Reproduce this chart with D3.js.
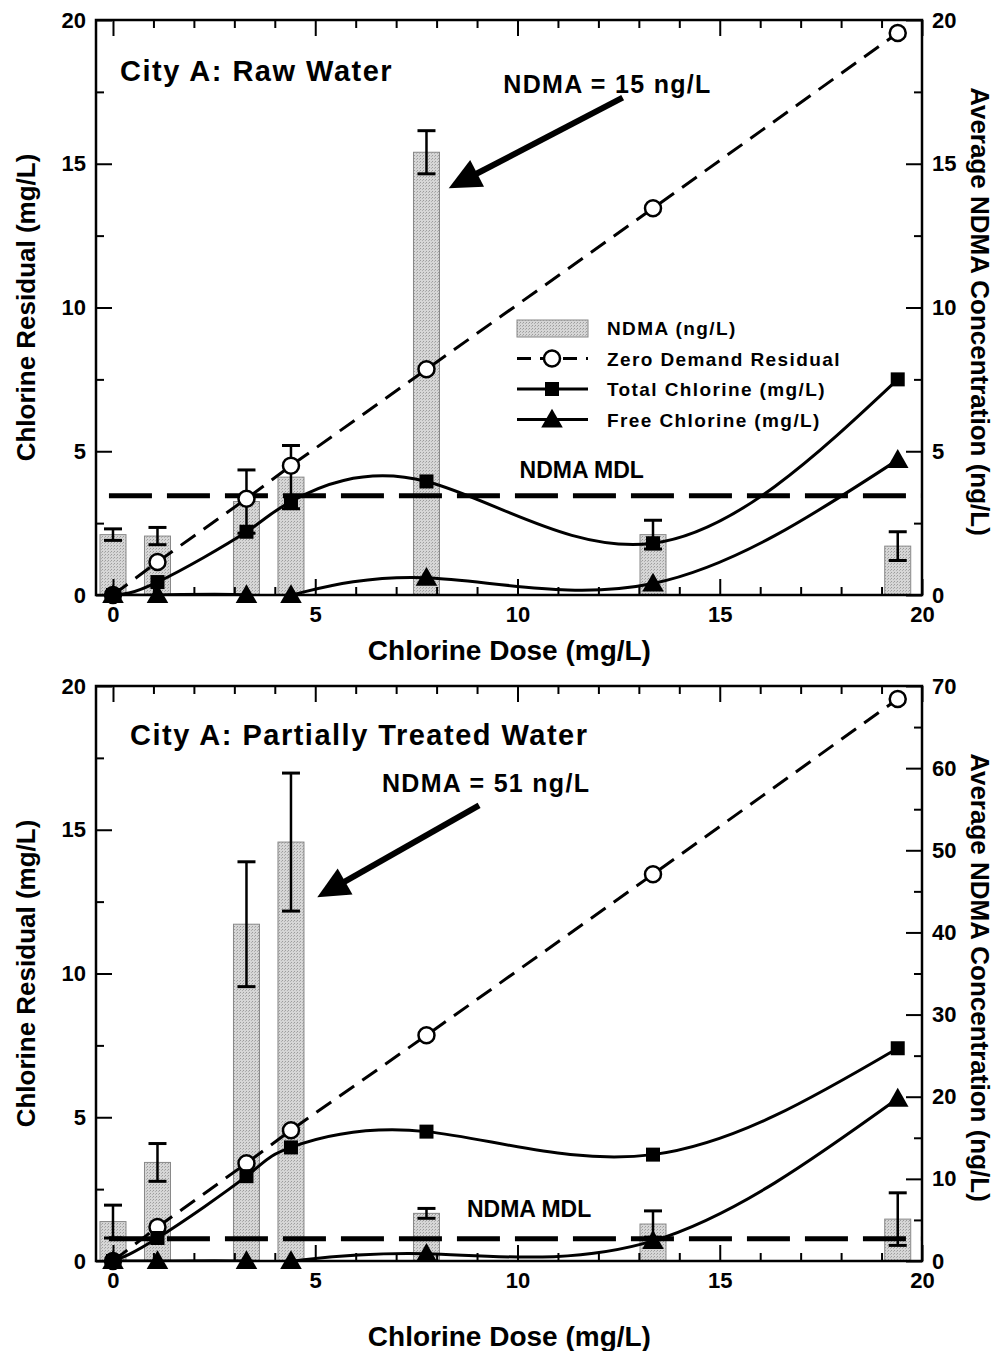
<!DOCTYPE html>
<html>
<head>
<meta charset="utf-8">
<script src="https://cdn.jsdelivr.net/npm/d3@7"></script>
<style>
  body { margin: 0; background: #fff; }
  text { font-family: "Liberation Sans", Arial, Helvetica, sans-serif; font-weight: bold; fill: #000; }
</style>
</head>
<body>
<div id="chart"></div>
<script>
// chlorine doses (mg/L), shared by both panels
var doses = [0, 1.1, 3.3, 4.4, 7.75, 13.35, 19.4];

// City A raw water
var rawZeroDemand = [0, 1.15, 3.35, 4.5, 7.85, 13.45, 19.55];
var rawTotal = [0, 0.45, 2.2, 3.25, 3.95, 1.8, 7.5];
var rawFree = [0, 0, 0, 0, 0.6, 0.4, 4.7];
var rawNdma = [2.1, 2.05, 3.25, 4.1, 15.4, 2.1, 1.7];
var rawNdmaErr = [0.2, 0.3, 1.1, 1.1, 0.75, 0.5, 0.5];
var rawMdl = 3.45;

// City A partially treated water
var ptZeroDemand = [0, 1.18, 3.4, 4.55, 7.85, 13.45, 19.55];
var ptTotal = [0, 0.8, 2.95, 3.95, 4.5, 3.7, 7.4];
var ptFree = [0, 0, 0, 0, 0.25, 0.7, 5.65];
var ptNdma = [4.8, 12.0, 41.0, 51.0, 5.8, 4.5, 5.1];
var ptNdmaErr = [2.0, 2.3, 7.6, 8.4, 0.6, 1.6, 3.2];
var ptMdl = 2.7;

// axis ticks
var xTicks = d3.range(0, 21, 1);
var leftTicks = d3.range(0, 20.1, 2.5);
var rawRightTicks = d3.range(0, 20.1, 2.5);
var ptRightTicks = d3.range(0, 70.1, 5);

var legendLabels = ["NDMA (ng/L)", "Zero Demand Residual", "Total Chlorine (mg/L)", "Free Chlorine (mg/L)"];

var W = 997, H = 1351;
var pw = 826, ph = 575;

var svg = d3.select("#chart").append("svg")
    .attr("width", W)
    .attr("height", H);

// stipple pattern for the bars
var defs = svg.append("defs");
var pat = defs.append("pattern")
    .attr("id", "stipple")
    .attr("width", 3).attr("height", 3)
    .attr("patternUnits", "userSpaceOnUse");
pat.append("rect").attr("width", 3).attr("height", 3).attr("fill", "#d6d6d6");
pat.append("rect").attr("x", 0).attr("y", 0).attr("width", 1).attr("height", 1).attr("fill", "#9c9c9c");
pat.append("rect").attr("x", 2).attr("y", 1).attr("width", 1).attr("height", 1).attr("fill", "#b0b0b0");

var xScale = d3.scaleLinear().domain([-0.42, 20]).range([0, pw]);
var yScale = d3.scaleLinear().domain([0, 20]).range([ph, 0]);

function triangle(s) {
  return "M0," + (-s * 0.6) + "L" + (s * 0.6) + "," + (s * 0.45) + "L" + (-s * 0.6) + "," + (s * 0.45) + "Z";
}

function arrow(g, x1, y1, x2, y2) {
  var dx = x2 - x1, dy = y2 - y1;
  var len = Math.sqrt(dx * dx + dy * dy);
  var ux = dx / len, uy = dy / len;
  var L = 32, hw = 15;
  var bx = x2 - ux * L, by = y2 - uy * L;
  g.append("line")
      .attr("x1", x1).attr("y1", y1)
      .attr("x2", bx + ux * 4).attr("y2", by + uy * 4)
      .attr("stroke", "#000").attr("stroke-width", 6);
  g.append("path")
      .attr("d", "M" + x2 + "," + y2 +
                 "L" + (bx - uy * hw) + "," + (by + ux * hw) +
                 "L" + (bx + uy * hw) + "," + (by - ux * hw) + "Z")
      .attr("fill", "#000");
}

function drawPanel(o) {
  var g = svg.append("g").attr("transform", "translate(96," + o.top + ")");
  var yRight = d3.scaleLinear().domain([0, o.rightMax]).range([ph, 0]);

  g.append("clipPath").attr("id", "clip" + o.id)
    .append("rect").attr("width", pw).attr("height", ph);

  // NDMA bars (right axis)
  var barW = 26;
  g.selectAll(".bar").data(doses).enter().append("rect")
      .attr("x", function(d) { return xScale(d) - barW / 2; })
      .attr("y", function(d, i) { return yRight(o.ndma[i]); })
      .attr("width", barW)
      .attr("height", function(d, i) { return ph - yRight(o.ndma[i]); })
      .attr("fill", "url(#stipple)")
      .attr("stroke", "#888")
      .attr("stroke-width", 1);

  // error bars
  var eb = g.selectAll(".err").data(doses).enter().append("g");
  eb.append("line")
      .attr("x1", function(d) { return xScale(d); })
      .attr("x2", function(d) { return xScale(d); })
      .attr("y1", function(d, i) { return yRight(o.ndma[i] + o.err[i]); })
      .attr("y2", function(d, i) { return yRight(Math.max(0, o.ndma[i] - o.err[i])); })
      .attr("stroke", "#000").attr("stroke-width", 2.5);
  [1, -1].forEach(function(sign) {
    eb.append("line")
        .attr("x1", function(d) { return xScale(d) - 9; })
        .attr("x2", function(d) { return xScale(d) + 9; })
        .attr("y1", function(d, i) { return yRight(o.ndma[i] + sign * o.err[i]); })
        .attr("y2", function(d, i) { return yRight(o.ndma[i] + sign * o.err[i]); })
        .attr("stroke", "#000").attr("stroke-width", 3);
  });

  // NDMA MDL line
  g.append("line")
      .attr("x1", xScale(-0.1)).attr("x2", pw)
      .attr("y1", yRight(o.mdl)).attr("y2", yRight(o.mdl))
      .attr("stroke", "#000").attr("stroke-width", 5)
      .attr("stroke-dasharray", "43,15");
  g.append("text")
      .attr("x", xScale(o.mdlLabelX)).attr("y", yRight(o.mdl) - o.mdlLabelDy)
      .attr("font-size", 23)
      .text("NDMA MDL");

  // lines
  var lines = g.append("g").attr("clip-path", "url(#clip" + o.id + ")");
  var smooth = d3.line()
      .x(function(d) { return xScale(d[0]); })
      .y(function(d) { return yScale(d[1]); })
      .curve(d3.curveNatural);
  var straight = d3.line()
      .x(function(d) { return xScale(d[0]); })
      .y(function(d) { return yScale(d[1]); });

  lines.append("path")
      .attr("d", straight(d3.zip(doses, o.zero)))
      .attr("fill", "none").attr("stroke", "#000").attr("stroke-width", 3)
      .attr("stroke-dasharray", "18,10");
  lines.append("path")
      .attr("d", smooth(d3.zip(doses, o.total)))
      .attr("fill", "none").attr("stroke", "#000").attr("stroke-width", 3);
  lines.append("path")
      .attr("d", smooth(d3.zip(doses, o.free)))
      .attr("fill", "none").attr("stroke", "#000").attr("stroke-width", 3);

  // markers
  g.selectAll(".zd").data(doses).enter().append("circle")
      .attr("cx", function(d) { return xScale(d); })
      .attr("cy", function(d, i) { return yScale(o.zero[i]); })
      .attr("r", 8)
      .attr("fill", "#fff").attr("stroke", "#000").attr("stroke-width", 2.5);
  g.selectAll(".tc").data(doses).enter().append("rect")
      .attr("x", function(d) { return xScale(d) - 7; })
      .attr("y", function(d, i) { return yScale(o.total[i]) - 7; })
      .attr("width", 14).attr("height", 14)
      .attr("fill", "#000");
  g.selectAll(".fc").data(doses).enter().append("path")
      .attr("transform", function(d, i) { return "translate(" + xScale(d) + "," + yScale(o.free[i]) + ")"; })
      .attr("d", triangle(18))
      .attr("fill", "#000");
  // black dot at origin
  g.append("circle").attr("cx", xScale(0)).attr("cy", yScale(0)).attr("r", 8).attr("fill", "#000");

  // frame
  g.append("rect")
      .attr("width", pw).attr("height", ph)
      .attr("fill", "none").attr("stroke", "#000").attr("stroke-width", 2.5);

  // axes, ticks inward
  var xb = g.append("g").attr("transform", "translate(0," + ph + ")")
      .call(d3.axisBottom(xScale).tickValues(xTicks).tickSize(-8).tickPadding(11)
            .tickFormat(function(d) { return d % 5 === 0 ? d : ""; }));
  xb.selectAll(".tick line").attr("y2", function(d) { return d % 5 === 0 ? -16 : -8; });
  var xt = g.append("g")
      .call(d3.axisTop(xScale).tickValues(xTicks).tickSize(-8).tickFormat(""));
  xt.selectAll(".tick line").attr("y2", function(d) { return d % 5 === 0 ? 16 : 8; });

  var yl = g.append("g")
      .call(d3.axisLeft(yScale).tickValues(leftTicks).tickSize(-8).tickPadding(10)
            .tickFormat(function(d) { return d % 5 === 0 ? d : ""; }));
  yl.selectAll(".tick line").attr("x2", function(d) { return d % 5 === 0 ? 16 : 8; });

  var yr = g.append("g").attr("transform", "translate(" + pw + ",0)")
      .call(d3.axisRight(yRight).tickValues(o.rightTicks).tickSize(-8).tickPadding(10)
            .tickFormat(function(d) { return d % o.rightMajor === 0 ? d : ""; }));
  yr.selectAll(".tick line").attr("x2", function(d) { return d % o.rightMajor === 0 ? -16 : -8; });

  [xb, xt, yl, yr].forEach(function(a) {
    a.attr("font-size", 22);
    a.select(".domain").remove();
    a.selectAll(".tick line").attr("stroke", "#000").attr("stroke-width", 2);
  });

  // axis titles
  g.append("text")
      .attr("x", xScale(9.8)).attr("y", o.xTitleY)
      .attr("text-anchor", "middle").attr("font-size", 28)
      .text("Chlorine Dose (mg/L)");
  g.append("text")
      .attr("transform", "translate(-61," + (ph / 2) + ") rotate(-90)")
      .attr("text-anchor", "middle").attr("font-size", 26)
      .text("Chlorine Residual (mg/L)");
  g.append("text")
      .attr("transform", "translate(" + (pw + 49) + "," + (ph / 2 + 4) + ") rotate(90)")
      .attr("text-anchor", "middle").attr("font-size", 26)
      .text("Average NDMA Concentration (ng/L)");

  // panel title and annotation
  g.append("text")
      .attr("x", o.titleX).attr("y", o.titleY)
      .attr("font-size", 29).attr("letter-spacing", 1.5)
      .text(o.title);
  g.append("text")
      .attr("x", xScale(o.note[0])).attr("y", yScale(o.note[1]))
      .attr("font-size", 25).attr("letter-spacing", 1.3)
      .text(o.noteText);
  arrow(g, xScale(o.arrow[0]), yScale(o.arrow[1]), xScale(o.arrow[2]), yScale(o.arrow[3]));

  return g;
}

var top1 = drawPanel({
  id: "a", top: 20,
  zero: rawZeroDemand, total: rawTotal, free: rawFree,
  ndma: rawNdma, err: rawNdmaErr, mdl: rawMdl,
  rightMax: 20, rightTicks: rawRightTicks, rightMajor: 5,
  mdlLabelX: 10.05, mdlLabelDy: 18,
  title: "City A: Raw Water", titleX: 24, titleY: 61,
  note: [9.65, 17.45], noteText: "NDMA = 15 ng/L",
  arrow: [12.6, 17.3, 8.3, 14.15],
  xTitleY: 640
});

drawPanel({
  id: "b", top: 686,
  zero: ptZeroDemand, total: ptTotal, free: ptFree,
  ndma: ptNdma, err: ptNdmaErr, mdl: ptMdl,
  rightMax: 70, rightTicks: ptRightTicks, rightMajor: 10,
  mdlLabelX: 8.75, mdlLabelDy: 22,
  title: "City A: Partially Treated Water", titleX: 34, titleY: 59,
  note: [6.65, 16.3], noteText: "NDMA = 51 ng/L",
  arrow: [9.05, 15.85, 5.05, 12.65],
  xTitleY: 660
});

// legend (top panel)
var leg = top1.append("g").attr("transform", "translate(421,308)");
var rowH = 30.5;
leg.append("rect").attr("x", 0).attr("y", -8).attr("width", 71).attr("height", 17)
    .attr("fill", "url(#stipple)").attr("stroke", "#888").attr("stroke-width", 1);
leg.append("line").attr("x1", 0).attr("x2", 71).attr("y1", rowH).attr("y2", rowH)
    .attr("stroke", "#000").attr("stroke-width", 3).attr("stroke-dasharray", "14,9");
leg.append("circle").attr("cx", 35).attr("cy", rowH).attr("r", 8)
    .attr("fill", "#fff").attr("stroke", "#000").attr("stroke-width", 2.5);
leg.append("line").attr("x1", 0).attr("x2", 71).attr("y1", rowH * 2).attr("y2", rowH * 2)
    .attr("stroke", "#000").attr("stroke-width", 3);
leg.append("rect").attr("x", 28).attr("y", rowH * 2 - 7).attr("width", 14).attr("height", 14).attr("fill", "#000");
leg.append("line").attr("x1", 0).attr("x2", 71).attr("y1", rowH * 3).attr("y2", rowH * 3)
    .attr("stroke", "#000").attr("stroke-width", 3);
leg.append("path").attr("transform", "translate(35," + (rowH * 3) + ")").attr("d", triangle(18)).attr("fill", "#000");
leg.selectAll(".lt").data(legendLabels).enter().append("text")
    .attr("x", 90)
    .attr("y", function(d, i) { return i * rowH + 7; })
    .attr("font-size", 19).attr("letter-spacing", 1.4)
    .text(function(d) { return d; });
</script>
</body>
</html>
